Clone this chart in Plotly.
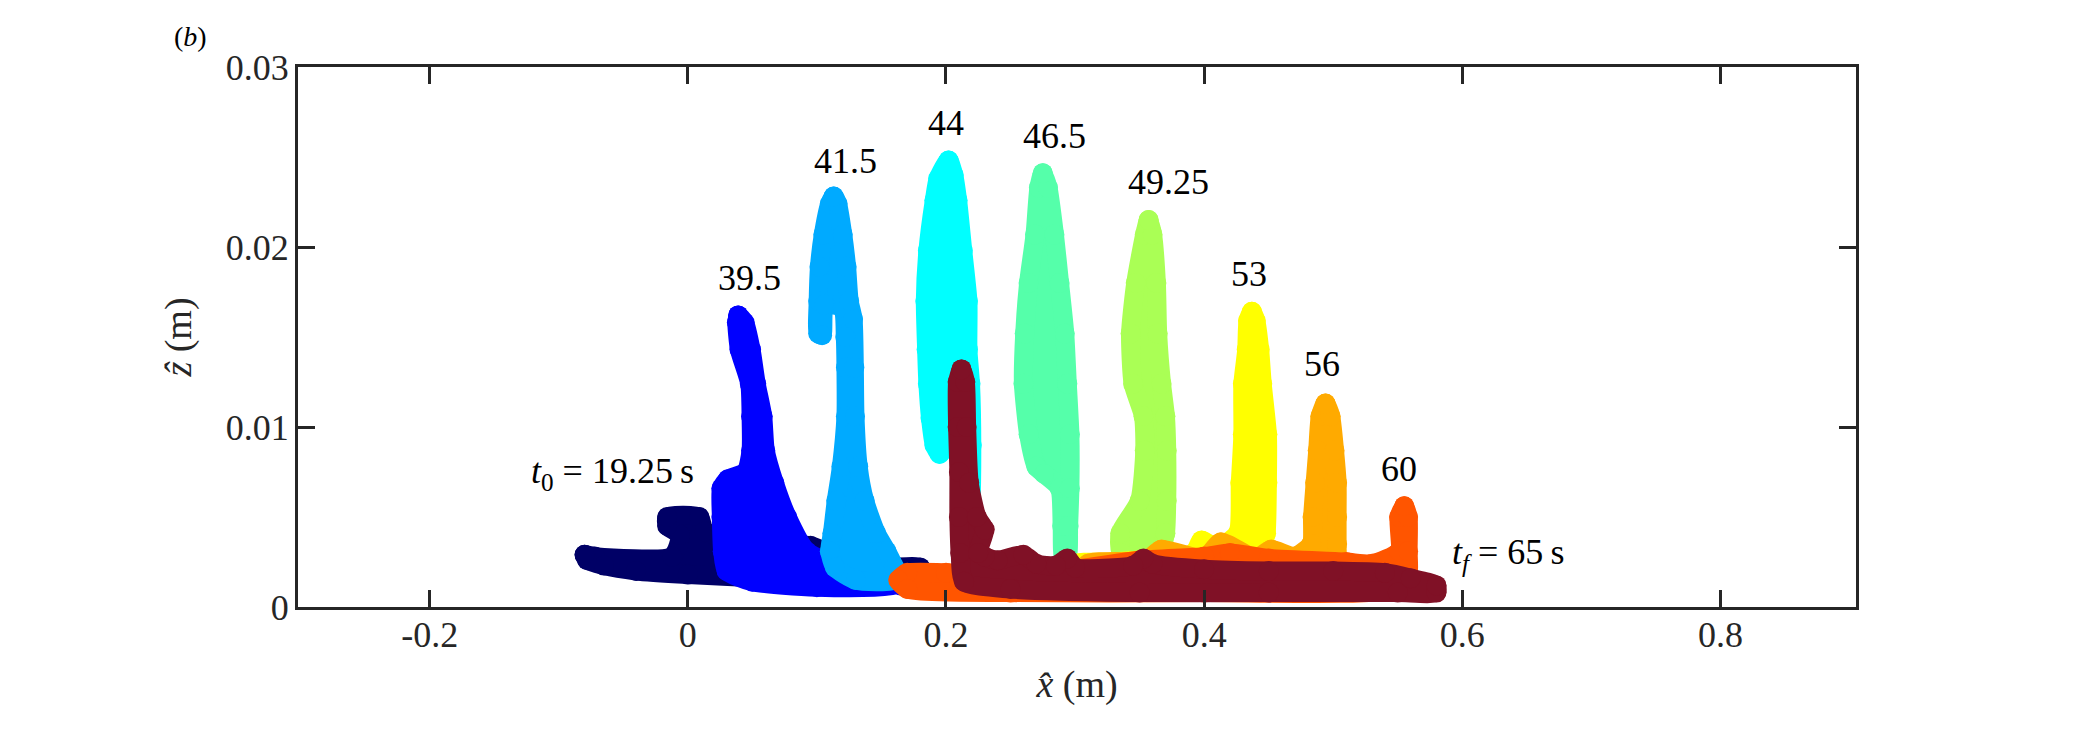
import plotly.graph_objects as go

# ---- snapshot labels and colours (jet-like) ----
labels = ["t0", "39.5", "41.5", "44", "46.5", "49.25", "53", "56", "60", "tf"]
colors = ["#000066", "#0000FF", "#00AAFF", "#00FFFF", "#55FFAA",
          "#AAFF55", "#FFFF00", "#FFAA00", "#FF5500", "#801126"]

# ---- outlines of each particle cloud (x-hat, z-hat in m) ----
t0_x = [-0.080, -0.072, -0.012, -0.006, -0.016, -0.016, 0.009, 0.013, 0.060, 0.095,
        0.110, 0.150, 0.180, 0.185, 0.150, 0.060, 0.000, -0.040, -0.065, -0.078]
t0_z = [0.0029, 0.0028, 0.0028, 0.0040, 0.0045, 0.0050, 0.0050, 0.0042, 0.0036, 0.0034,
        0.0030, 0.0022, 0.0022, 0.0014, 0.0013, 0.0016, 0.0018, 0.0020, 0.0023, 0.0026]

s395_x = [0.039, 0.044, 0.049, 0.053, 0.058, 0.060, 0.067, 0.077, 0.092, 0.120, 0.160,
          0.165, 0.100, 0.050, 0.030, 0.027, 0.026, 0.026, 0.031, 0.045, 0.049, 0.049,
          0.048, 0.040, 0.038]
s395_z = [0.0162, 0.0158, 0.0143, 0.0124, 0.0106, 0.0087, 0.0069, 0.0050, 0.0031, 0.0022, 0.0015,
          0.0012, 0.0011, 0.0014, 0.0020, 0.0031, 0.0050, 0.0066, 0.0071, 0.0075, 0.0087, 0.0106,
          0.0124, 0.0143, 0.0158]

s415_x = [0.113, 0.110, 0.105, 0.102, 0.101, 0.101, 0.104, 0.106, 0.120, 0.122, 0.1225,
          0.1225, 0.119, 0.115, 0.112, 0.110, 0.114, 0.130, 0.160, 0.160, 0.154, 0.146,
          0.137, 0.132, 0.1295, 0.129, 0.128, 0.125, 0.123, 0.120, 0.116]
s415_z = [0.0228, 0.0224, 0.0207, 0.0189, 0.0170, 0.0152, 0.0151, 0.0168, 0.0166, 0.0150, 0.0133,
          0.0106, 0.0078, 0.0059, 0.0041, 0.0031, 0.0022, 0.0015, 0.0015, 0.0022, 0.0031, 0.0041,
          0.0059, 0.0078, 0.0106, 0.0133, 0.0160, 0.0170, 0.0189, 0.0207, 0.0224]

s44_x = [0.202, 0.194, 0.191, 0.186, 0.184, 0.185, 0.186, 0.188, 0.191, 0.195, 0.200, 0.206,
         0.211, 0.213, 0.212, 0.212, 0.216, 0.219, 0.220, 0.219, 0.217, 0.217, 0.213, 0.209, 0.206]
s44_z = [0.0248, 0.0238, 0.0226, 0.0198, 0.0170, 0.0143, 0.0124, 0.0105, 0.0090, 0.0085, 0.0090, 0.0105,
         0.0110, 0.0070, 0.0040, 0.0025, 0.0025, 0.0050, 0.0090, 0.0124, 0.0143, 0.0170, 0.0198, 0.0226, 0.0240]

s465_x = [0.275, 0.272, 0.269, 0.264, 0.261, 0.260, 0.264, 0.270, 0.276, 0.288, 0.290,
          0.291, 0.294, 0.295, 0.296, 0.296, 0.294, 0.292, 0.288, 0.284, 0.279]
s465_z = [0.0241, 0.0233, 0.0207, 0.0180, 0.0152, 0.0124, 0.0096, 0.0078, 0.0074, 0.0066, 0.0045,
          0.0028, 0.0028, 0.0045, 0.0066, 0.0096, 0.0124, 0.0152, 0.0180, 0.0207, 0.0233]

s4925_x = [0.357, 0.354, 0.347, 0.343, 0.345, 0.353, 0.354, 0.350, 0.335, 0.336,
           0.365, 0.370, 0.371, 0.371, 0.370, 0.367, 0.364, 0.363, 0.360]
s4925_z = [0.0215, 0.0207, 0.0180, 0.0152, 0.0124, 0.0106, 0.0087, 0.0059, 0.0041, 0.0030,
           0.0030, 0.0041, 0.0059, 0.0087, 0.0106, 0.0124, 0.0152, 0.0180, 0.0207]

s53_x = [0.437, 0.434, 0.433, 0.430, 0.430, 0.428, 0.426, 0.410, 0.398, 0.392, 0.330, 0.300,
         0.300, 0.440, 0.445, 0.448, 0.449, 0.449, 0.445, 0.443, 0.440]
s53_z = [0.0164, 0.0159, 0.0143, 0.0124, 0.0096, 0.0069, 0.0041, 0.0033, 0.0037, 0.0030, 0.0025, 0.0024,
         0.0018, 0.0018, 0.0033, 0.0041, 0.0069, 0.0096, 0.0124, 0.0143, 0.0159]

s56_x = [0.494, 0.490, 0.488, 0.486, 0.484, 0.483, 0.470, 0.452, 0.440, 0.413, 0.400, 0.367,
         0.355, 0.310, 0.310, 0.400, 0.500, 0.503, 0.503, 0.503, 0.503, 0.501, 0.498]
s56_z = [0.0113, 0.0106, 0.0087, 0.0069, 0.0050, 0.0035, 0.0028, 0.0032, 0.0027, 0.0036, 0.0027, 0.0032,
         0.0026, 0.0024, 0.0016, 0.0012, 0.0012, 0.0020, 0.0035, 0.0050, 0.0069, 0.0087, 0.0106]

s60_x = [0.555, 0.551, 0.551, 0.530, 0.510, 0.450, 0.420, 0.400, 0.350, 0.300, 0.250, 0.200,
         0.170, 0.163, 0.170, 0.250, 0.400, 0.550, 0.558, 0.558, 0.558]
s60_z = [0.0056, 0.0050, 0.0031, 0.0024, 0.0025, 0.0027, 0.0030, 0.0028, 0.0026, 0.0021, 0.0018, 0.0019,
         0.0019, 0.0015, 0.0010, 0.0008, 0.0008, 0.0010, 0.0018, 0.0031, 0.0050]

tf_x = [0.212, 0.209, 0.209, 0.210, 0.210, 0.211, 0.214, 0.250, 0.350, 0.450, 0.550, 0.580,
        0.580, 0.560, 0.540, 0.500, 0.450, 0.400, 0.360, 0.353, 0.345, 0.300, 0.294, 0.285,
        0.270, 0.260, 0.240, 0.230, 0.225, 0.230, 0.224, 0.218, 0.216, 0.215]
tf_z = [0.0132, 0.0125, 0.0100, 0.0075, 0.0050, 0.0030, 0.0014, 0.0010, 0.0008, 0.0008, 0.0008, 0.0008,
        0.0012, 0.0016, 0.0019, 0.0020, 0.0020, 0.0021, 0.0024, 0.0027, 0.0023, 0.0022, 0.0027, 0.0023,
        0.0024, 0.0029, 0.0026, 0.0028, 0.0030, 0.0043, 0.0050, 0.0069, 0.0100, 0.0125]

clouds = [(t0_x, t0_z), (s395_x, s395_z), (s415_x, s415_z), (s44_x, s44_z), (s465_x, s465_z),
          (s4925_x, s4925_z), (s53_x, s53_z), (s56_x, s56_z), (s60_x, s60_z), (tf_x, tf_z)]

# ---- label texts and anchor positions (data units) ----
label_text = ["<i>t</i><sub>0</sub> = 19.25\u2009s", "39.5", "41.5", "44", "46.5", "49.25",
              "53", "56", "60", "<i>t<sub>f</sub></i> = 65\u2009s"]
label_x = [0.0062, 0.048, 0.1225, 0.200, 0.2837, 0.3721, 0.4349, 0.4915, 0.5512, 0.5907]
label_z = [0.0074, 0.0183, 0.02476, 0.0269, 0.02615, 0.0236, 0.01848, 0.01348, 0.00765, 0.0029]

x_ticks = [-0.2, 0, 0.2, 0.4, 0.6, 0.8]
x_ticktext = ["-0.2", "0", "0.2", "0.4", "0.6", "0.8"]
y_ticks = [0, 0.01, 0.02, 0.03]
y_ticktext = ["0", "0.01", "0.02", "0.03"]

FONT = "Liberation Serif, DejaVu Serif, serif"
AX = "#262626"

fig = go.Figure()
for (xs, zs), col, lab in zip(clouds, colors, labels):
    fig.add_trace(go.Scatter(
        x=xs + [xs[0]], y=zs + [zs[0]], mode="lines+markers", fill="toself",
        fillcolor=col, line=dict(color=col, width=19, shape="spline", smoothing=0.6),
        marker=dict(color=col, size=20, line=dict(width=0)),
        name=lab, showlegend=False, hoverinfo="skip"))

annotations = []
for i, (t, ax_, az_) in enumerate(zip(label_text, label_x, label_z)):
    if i == 0:
        xa = "right"
    elif i == len(label_text) - 1:
        xa = "left"
    else:
        xa = "center"
    annotations.append(dict(x=ax_, y=az_, xref="x", yref="y", text=t, showarrow=False,
                            xanchor=xa, yanchor="middle",
                            font=dict(family=FONT, size=36, color="black")))
annotations.append(dict(x=-0.0693, y=1.057, xref="paper", yref="paper", text="(<i>b</i>)",
                        showarrow=False, xanchor="center", yanchor="middle",
                        font=dict(family=FONT, size=28, color="black")))

axis_common = dict(showline=True, linewidth=3, linecolor=AX, mirror="ticks",
                   ticks="inside", ticklen=17, tickwidth=3, tickcolor=AX,
                   showgrid=False, zeroline=False,
                   tickfont=dict(family=FONT, size=36, color=AX))

fig.update_layout(
    width=2084, height=730,
    margin=dict(l=298, r=228, t=67, b=123),
    paper_bgcolor="white", plot_bgcolor="white",
    xaxis=dict(range=[-0.302, 0.905], tickvals=x_ticks, ticktext=x_ticktext,
               ticklabelstandoff=-6,
               title=dict(text="<i>x\u0302</i> (m)", font=dict(family=FONT, size=38, color=AX), standoff=17),
               **axis_common),
    yaxis=dict(range=[0, 0.03], tickvals=y_ticks, ticktext=y_ticktext,
               ticklabelstandoff=-1,
               title=dict(text="<i>z\u0302</i> (m)", font=dict(family=FONT, size=38, color=AX), standoff=23),
               **axis_common),
    annotations=annotations,
)

fig.write_html("out.html")
